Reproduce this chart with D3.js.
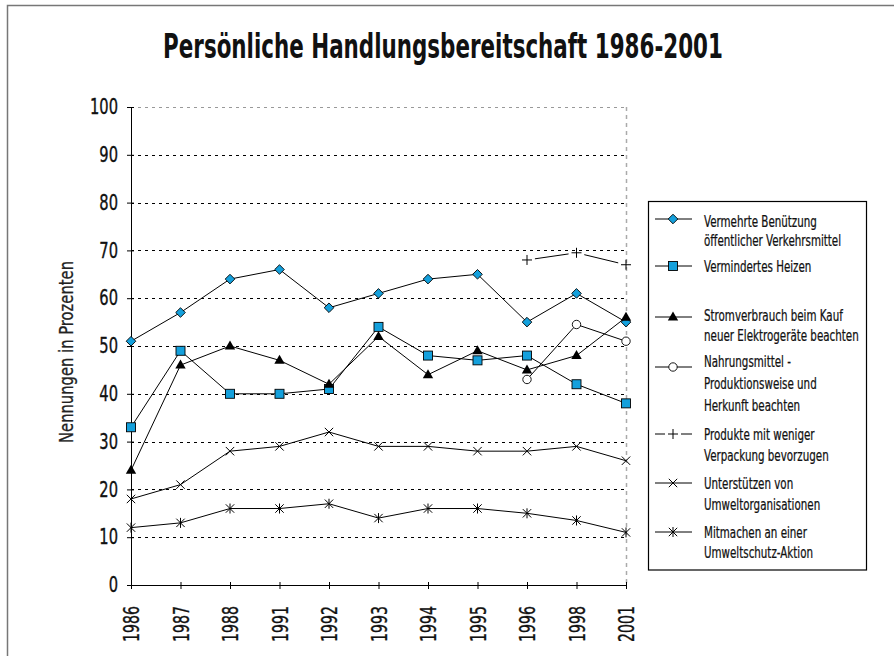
<!DOCTYPE html>
<html><head><meta charset="utf-8">
<script src="https://cdn.jsdelivr.net/npm/d3@7"></script>
<style>
body{margin:0;background:#fff;}
svg text{font-family:"DejaVu Sans Condensed","DejaVu Sans","Liberation Sans",sans-serif;font-stretch:condensed;fill:#111;}
</style></head><body>
<svg id="c" width="894" height="656"></svg>
<script>
const years = ["1986","1987","1988","1991","1992","1993","1994","1995","1996","1998","2001"];
const verkehr   = [51,57,64,66,58,61,64,65,55,61,55];
const heizen    = [33,49,40,40,41,54,48,47,48,42,38];
const strom     = [24,46,50,47,42,52,44,49,45,48,56];
const nahrung   = [null,null,null,null,null,null,null,null,43,54.5,51];
const produkte  = [null,null,null,null,null,null,null,null,68,69.5,67];
const unterst   = [18,21,28,29,32,29,29,28,28,29,26];
const mitmachen = [12,13,16,16,17,14,16,16,15,13.5,11];
const yTicks = [0,10,20,30,40,50,60,70,80,90,100];
const titleText = "Persönliche Handlungsbereitschaft 1986-2001";
const yLabel = "Nennungen in Prozenten";
const legendLabels = [
  ["Vermehrte Benützung","öffentlicher Verkehrsmittel"],
  ["Vermindertes Heizen"],
  ["Stromverbrauch beim Kauf","neuer Elektrogeräte beachten"],
  ["Nahrungsmittel -","Produktionsweise und","Herkunft beachten"],
  ["Produkte mit weniger","Verpackung bevorzugen"],
  ["Unterstützen von","Umweltorganisationen"],
  ["Mitmachen an einer","Umweltschutz-Aktion"]
];

const BLUE = "#14a0dc";
const series = [
  {values: verkehr, marker: "diamond"},
  {values: heizen, marker: "square"},
  {values: strom, marker: "triangle"},
  {values: nahrung, marker: "circle"},
  {values: produkte, marker: "plus", gapped: true},
  {values: unterst, marker: "x"},
  {values: mitmachen, marker: "star"}
];

const svg = d3.select("#c");
svg.append("rect").attr("width",894).attr("height",656).attr("fill","#fff");
svg.append("path").attr("d","M7.5,656 L7.5,5.5 L894,5.5").attr("fill","none").attr("stroke","#777").attr("stroke-width",1.5);

const x = d3.scalePoint().domain(years).range([131,626]);
const y = d3.scaleLinear().domain([0,100]).range([585,107]);

// grid
const g = svg.append("g");
g.selectAll("line.grid").data(yTicks.filter(v=>v>0&&v<100)).enter().append("line")
  .attr("x1",x(years[0])).attr("x2",x(years[years.length-1]))
  .attr("y1",d=>Math.round(y(d))+0.5).attr("y2",d=>Math.round(y(d))+0.5)
  .attr("stroke","#000").attr("stroke-width",1).attr("stroke-dasharray","3,4");
g.append("line").attr("x1",x(years[0])).attr("x2",x(years[years.length-1]))
  .attr("y1",Math.round(y(100))+0.5).attr("y2",Math.round(y(100))+0.5)
  .attr("stroke","#999").attr("stroke-dasharray","3,4");
g.append("line").attr("x1",x(years[years.length-1])+0.5).attr("x2",x(years[years.length-1])+0.5)
  .attr("y1",y(100)).attr("y2",y(0))
  .attr("stroke","#aaa").attr("stroke-width",1.5).attr("stroke-dasharray","4,4");

// axes
const yAxis = svg.append("g").attr("transform",`translate(${x(years[0])},0)`)
  .call(d3.axisLeft(y).tickValues(yTicks).tickSizeInner(4).tickSizeOuter(0).tickPadding(10));
yAxis.select(".domain").attr("stroke","#000");
yAxis.selectAll(".tick line").attr("x1",3).attr("stroke","#000");
{
  const yt = yAxis.selectAll(".tick text").style("font-size","21px")
    .style("stroke","#111").style("stroke-width","0.35px");
  const f = 28 / yt.filter(d=>d===100).node().getComputedTextLength();
  yt.attr("x", -13/f).attr("transform",`scale(${f},1)`);
}

const xAxis = svg.append("g").attr("transform",`translate(0,${y(0)})`)
  .call(d3.axisBottom(x).tickSizeInner(4).tickSizeOuter(0));
xAxis.select(".domain").attr("stroke","#000");
xAxis.selectAll(".tick line").attr("y1",-3).attr("stroke","#000");
{
  const xt = xAxis.selectAll(".tick text").attr("y",0).attr("dy","0.36em")
    .style("text-anchor","end").style("font-size","22px")
    .style("stroke","#111").style("stroke-width","0.35px");
  const f = 36 / xt.node().getComputedTextLength();
  xt.attr("x", -21/f).attr("transform",`rotate(-90) scale(${f},1)`);
}

// markers
function drawMarker(sel, type){
  if(type==="diamond"){
    sel.append("path").attr("d","M0,-4.8L4.8,0L0,4.8L-4.8,0Z").attr("fill",BLUE).attr("stroke","#000").attr("stroke-width",0.9);
  } else if(type==="square"){
    sel.append("rect").attr("x",-4.5).attr("y",-4.5).attr("width",9).attr("height",9).attr("fill",BLUE).attr("stroke","#000").attr("stroke-width",0.9);
  } else if(type==="triangle"){
    sel.append("path").attr("d","M0,-5.5L5.2,3.5L-5.2,3.5Z").attr("fill","#000");
  } else if(type==="circle"){
    sel.append("circle").attr("r",4.2).attr("fill","#fff").attr("stroke","#000").attr("stroke-width",0.9);
  } else if(type==="plus"){
    sel.append("path").attr("d","M-5,0H5M0,-5V5").attr("stroke","#000").attr("stroke-width",1).attr("fill","none");
  } else if(type==="x"){
    sel.append("path").attr("d","M-4.2,-4.2L4.2,4.2M-4.2,4.2L4.2,-4.2").attr("stroke","#000").attr("stroke-width",1).attr("fill","none");
  } else if(type==="star"){
    sel.append("path").attr("d","M-4.2,-4.2L4.2,4.2M-4.2,4.2L4.2,-4.2M0,-5V5").attr("stroke","#000").attr("stroke-width",1).attr("fill","none");
  }
}

const line = d3.line().defined(d=>d.v!=null).x(d=>x(d.year)).y(d=>y(d.v));
series.forEach(s=>{
  const pts = years.map((yr,i)=>({year:yr, v:s.values[i]}));
  const sg = svg.append("g");
  if(s.gapped){
    const valid = pts.filter(p=>p.v!=null);
    for(let i=0;i<valid.length-1;i++){
      const a=[x(valid[i].year),y(valid[i].v)], b=[x(valid[i+1].year),y(valid[i+1].v)];
      const dx=b[0]-a[0], dy=b[1]-a[1], L=Math.hypot(dx,dy), gap=8;
      sg.append("line").attr("x1",a[0]+dx/L*gap).attr("y1",a[1]+dy/L*gap)
        .attr("x2",b[0]-dx/L*gap).attr("y2",b[1]-dy/L*gap).attr("stroke","#000").attr("stroke-width",1);
    }
  } else {
    sg.append("path").datum(pts).attr("d",line).attr("fill","none").attr("stroke","#000").attr("stroke-width",1);
  }
  pts.filter(p=>p.v!=null).forEach(p=>{
    drawMarker(sg.append("g").attr("transform",`translate(${x(p.year)},${y(p.v)})`), s.marker);
  });
});

// title
{
  const gt = svg.append("g").attr("transform","translate(443,58)");
  const t = gt.append("text").attr("text-anchor","middle")
    .style("font-size","34px").style("font-weight","bold").text(titleText);
  const f = 560 / t.node().getComputedTextLength();
  gt.attr("transform",`translate(443,58) scale(${f},1)`);
}

// y label
{
  const gy = svg.append("g");
  const t = gy.append("text").attr("text-anchor","middle")
    .style("font-size","19px").style("fill","#222").style("stroke","#222").style("stroke-width","0.25px").text(yLabel);
  const f = 182 / t.node().getComputedTextLength();
  gy.attr("transform",`translate(73,352) rotate(-90) scale(${f},1)`);
}

// legend
const lg = svg.append("g");
lg.append("rect").attr("x",648.5).attr("y",201.5).attr("width",218).attr("height",368.5)
  .attr("fill","#fff").attr("stroke","#000").attr("stroke-width",1.2);
const symY = [219,266,317,367,434,483,532];
const txtY = [221,266,315,361,434,483,532];
const lineGap = [19.5,20,20.5,22,21,21,20.5];
const legTexts = [];
legendLabels.forEach((lines,i)=>{
  const s = series[i];
  if(s.gapped){
    lg.append("line").attr("x1",655).attr("x2",665).attr("y1",symY[i]).attr("y2",symY[i]).attr("stroke","#000");
    lg.append("line").attr("x1",681).attr("x2",692).attr("y1",symY[i]).attr("y2",symY[i]).attr("stroke","#000");
  } else {
    lg.append("line").attr("x1",655).attr("x2",692).attr("y1",symY[i]).attr("y2",symY[i]).attr("stroke","#000");
  }
  drawMarker(lg.append("g").attr("transform",`translate(673,${symY[i]})`), s.marker);
  lines.forEach((ln,j)=>{
    const yy = txtY[i]+j*lineGap[i];
    const t = lg.append("text").attr("x",0).attr("y",0).attr("dy","0.36em")
      .style("font-size","16px").style("stroke","#111").style("stroke-width","0.25px").text(ln);
    legTexts.push({t, yy});
  });
});
{
  const f = 113 / legTexts[0].t.node().getComputedTextLength();
  legTexts.forEach(o=>o.t.attr("transform",`translate(704,${o.yy}) scale(${f},1)`));
}
</script>
</body></html>
